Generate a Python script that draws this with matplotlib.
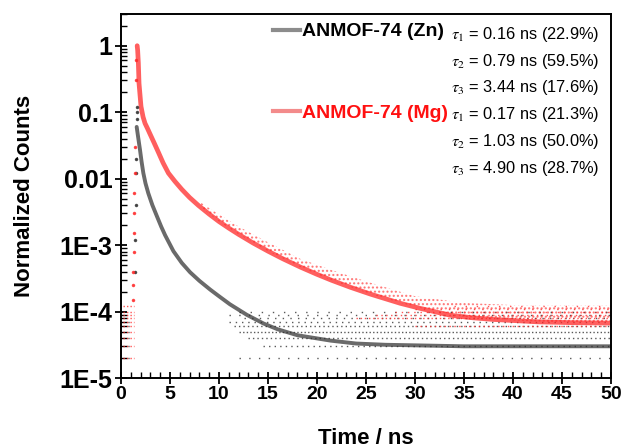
import matplotlib
matplotlib.use("Agg")
import matplotlib.pyplot as plt
from matplotlib.lines import Line2D
import numpy as np

plt.rcParams['font.family'] = ['Liberation Sans', 'DejaVu Sans']
plt.rcParams['mathtext.fontset'] = 'stix'

# ---------------- data ----------------
# ANMOF-74 (Zn): main decay band (time in ns, normalized counts)
zn_t = [1.6, 1.75, 1.94, 2.1, 2.28, 2.5, 2.79, 3.2, 3.65, 4.1, 4.5, 5.35,
        6.2, 7.05, 8.0, 9.1, 10.0, 11.1, 12.85, 14.55, 16.0, 18.0, 21.4, 24.0,
        27.0, 30.0, 35.0, 40.0, 45.0, 50.0]
zn_v = [0.06, 0.042, 0.027, 0.018, 0.0121, 0.0085, 0.0060, 0.0040, 0.00275,
        0.0019, 0.00141, 0.00081, 0.00054, 0.00039, 0.00029, 0.000214, 0.00017,
        0.000129, 0.000089, 0.000066, 0.000054, 0.000044, 0.0000365, 0.000033,
        0.0000316, 0.000031, 0.000030, 0.000030, 0.000030, 0.000030]
# rising edge / isolated points of Zn
zn_edge_t = [1.45, 1.45, 1.5, 1.5, 1.55, 1.6, 1.6, 1.65]
zn_edge_v = [0.0004, 0.0012, 0.004, 0.012, 0.02, 0.1, 0.12, 0.08]
# quantized noise rows of Zn (count level, first time it appears, dot spacing)
zn_rows = [2e-5, 3e-5, 4e-5, 5e-5, 6e-5, 7e-5, 8e-5, 9e-5, 1e-4]
zn_rows_start = [12.0, 14.5, 13.0, 12.0, 11.5, 11.0, 12.5, 11.0, 12.0]
zn_rows_gap = [6.0, 3.0, 2.2, 1.6, 2.2, 3.5, 4.5, 6.0, 7.0]

# ANMOF-74 (Mg): main decay band
mg_t = [1.65, 1.7, 1.77, 1.84, 2.04, 2.25, 2.45, 2.7, 2.96, 3.4, 3.81, 4.3, 4.84,
        5.5, 6.2, 7.0, 7.9, 9.0, 10.0, 11.0, 12.0, 13.5, 15.0, 16.5, 18.3, 20.0,
        21.5, 23.4, 25.5, 28.5, 30.6, 33.6, 35.7, 38.0, 42.5, 46.0, 50.0]
mg_v = [1.0, 0.85, 0.55, 0.27, 0.122, 0.085, 0.068, 0.057, 0.047, 0.034, 0.025,
        0.0172, 0.0121, 0.0091, 0.0069, 0.0052, 0.00395, 0.00292, 0.00226, 0.0018,
        0.00145, 0.00107, 0.00081, 0.000624, 0.000467, 0.000363, 0.000295,
        0.000232, 0.000182, 0.000133, 0.000111, 0.000088, 0.000081, 0.000076,
        0.000070, 0.000068, 0.000067]
# upper edge of the Mg scatter cloud
mg_up_t = [8.0, 10.0, 12.0, 15.0, 18.3, 21.5, 25.5, 30.0, 35.0, 40.0, 45.0, 50.0]
mg_up_v = [0.0045, 0.0029, 0.0019, 0.0011, 0.00062, 0.00042, 0.00027, 0.00017,
           0.000135, 0.000125, 0.000125, 0.000125]
mg_edge_t = [1.25, 1.25, 1.25, 1.3, 1.3, 1.3, 1.35, 1.4, 1.45, 1.5, 1.55]
mg_edge_v = [0.00015, 0.00025, 0.0004, 0.0008, 0.0015, 0.003, 0.006, 0.012, 0.03, 0.3, 0.6]
mg_rows = [6e-5, 8e-5, 9e-5, 1e-4, 1.1e-4, 1.2e-4]
mg_rows_start = [30.0, 24.0, 26.0, 28.0, 30.0, 34.0]
mg_rows_gap = [2.5, 2.0, 2.5, 3.5, 5.0, 7.0]

# instrument background before the pulse (levels, time span)
pre_levels = [2e-5, 3e-5, 4e-5, 5e-5, 6e-5, 7e-5, 8e-5, 9e-5, 1e-4, 1.2e-4]
pre_t0, pre_t1 = 0.25, 1.3

zn_label = 'ANMOF-74 (Zn)'
mg_label = 'ANMOF-74 (Mg)'
zn_tau = [r'$\tau_1$ = 0.16 ns (22.9%)', r'$\tau_2$ = 0.79 ns (59.5%)', r'$\tau_3$ = 3.44 ns (17.6%)']
mg_tau = [r'$\tau_1$ = 0.17 ns (21.3%)', r'$\tau_2$ = 1.03 ns (50.0%)', r'$\tau_3$ = 4.90 ns (28.7%)']

xticks = [0, 5, 10, 15, 20, 25, 30, 35, 40, 45, 50]
yticks = [1e-5, 1e-4, 1e-3, 1e-2, 1e-1, 1]
ytick_labels = ['1E-5', '1E-4', '1E-3', '0.01', '0.1', '1']

RED = '#ff2a2a'
BLACK = '#303030'

# ---------------- figure ----------------
fig = plt.figure(figsize=(6.29, 4.48), dpi=100)
ax = fig.add_axes([121/629, 1-378/448, 490/629, 364/448])
ax.set_yscale('log')
ax.set_xlim(0, 50)
ax.set_ylim(1e-5, 3)

# background rows before the pulse
ax.hlines(pre_levels, pre_t0, pre_t1, colors=RED, lw=1.0, linestyles=(0, (1, 1.5)), alpha=0.8)
ax.hlines(pre_levels[:6], pre_t0, pre_t1, colors=BLACK, lw=1.0, linestyles=(1.5, (1, 4)), alpha=0.7)

# Zn noise rows
for lev, s, g in zip(zn_rows, zn_rows_start, zn_rows_gap):
    ax.hlines(lev, s, 50, colors=BLACK, lw=1.0, linestyles=(0, (1, g)), alpha=0.8)
# Mg noise rows
for lev, s, g in zip(mg_rows, mg_rows_start, mg_rows_gap):
    ax.hlines(lev, s, 50, colors=RED, lw=1.0, linestyles=(0, (1, g)), alpha=0.8)

# Mg scatter cloud above the band
mg_band_at_up = np.interp(mg_up_t, mg_t, mg_v)
ax.fill_between(mg_up_t, mg_band_at_up, mg_up_v, facecolor='none', edgecolor=RED,
                hatch='....', lw=0, alpha=0.6)

# main bands
ax.plot(zn_t, zn_v, '-', color=BLACK, lw=2.8, alpha=0.72, solid_joinstyle='round',
        solid_capstyle='round')
ax.plot(mg_t, mg_v, '-', color=RED, lw=3.4, alpha=0.75, solid_joinstyle='round',
        solid_capstyle='round')
ax.plot(zn_edge_t, zn_edge_v, 'o', ms=1.5, color=BLACK, alpha=0.8)
ax.plot(mg_edge_t, mg_edge_v, 'o', ms=1.5, color=RED, alpha=0.8)

# axes styling
ax.set_xticks(xticks)
ax.set_xticklabels([str(x) for x in xticks])
ax.set_yticks(yticks)
ax.set_yticklabels(ytick_labels)
ax.xaxis.set_minor_locator(matplotlib.ticker.MultipleLocator(1))
ax.yaxis.set_minor_locator(matplotlib.ticker.LogLocator(base=10, subs=np.arange(2, 10)))
ax.yaxis.set_minor_formatter(matplotlib.ticker.NullFormatter())
ax.tick_params(which='major', direction='inout', length=8, width=1.3, pad=2)
ax.tick_params(axis='x', which='major', labelsize=14)
ax.tick_params(axis='y', which='major', labelsize=18)
ax.tick_params(which='minor', direction='in', length=4, width=1.0)
for lab in ax.get_xticklabels() + ax.get_yticklabels():
    lab.set_fontweight('bold')
for sp in ax.spines.values():
    sp.set_linewidth(1.4)

ax.set_xlabel('Time / ns', fontsize=16, fontweight='bold', labelpad=18)
ax.set_ylabel('Normalized Counts', fontsize=16, fontweight='bold', labelpad=18)

# legend
handles = [Line2D([], [], color='#8c8c8c', lw=3), Line2D([], [], color='#f38b8b', lw=3)]
leg = ax.legend(handles, [zn_label, mg_label], loc='upper left', bbox_to_anchor=(0.31, 0.976),
                frameon=False, handlelength=1.4, handletextpad=0.1, labelspacing=3.3,
                prop={'weight': 'bold', 'size': 14}, borderaxespad=0, borderpad=0)
leg.get_texts()[0].set_color('black')
leg.get_texts()[1].set_color('#ff1010')

ys = [0.944, 0.870, 0.798, 0.724, 0.650, 0.576]
for y, s in zip(ys, zn_tau + mg_tau):
    ax.text(0.6735, y, s, transform=ax.transAxes, fontsize=11.8, va='center', ha='left')

fig.savefig('out.png', dpi=100)
